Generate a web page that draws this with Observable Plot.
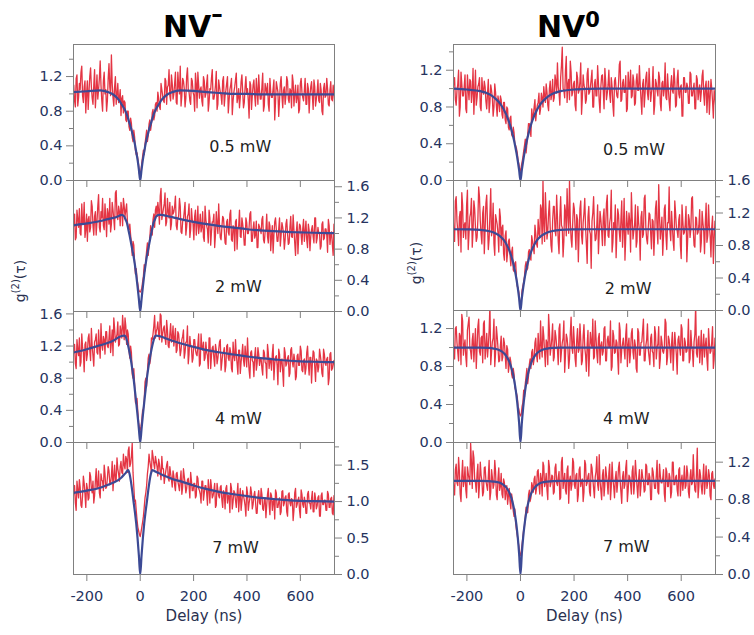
<!DOCTYPE html>
<html><head><meta charset="utf-8">
<script src="https://cdn.jsdelivr.net/npm/d3@7"></script>
<script src="https://cdn.jsdelivr.net/npm/@observablehq/plot@0.6"></script>
<style>
body{margin:0;background:#fff;}
#chart{position:relative;width:754px;height:635px;overflow:hidden;font-family:"DejaVu Sans",sans-serif;background:#fff;}
#chart svg{position:absolute;overflow:visible;}
.title{position:absolute;font-weight:bold;font-size:30px;color:#000;line-height:30px;white-space:nowrap;}
.ylab{position:absolute;font-size:14px;color:#2a3150;white-space:nowrap;transform:translate(-50%,-50%) rotate(-90deg);}
</style></head>
<body><div id="chart"></div>
<script>
// time bins of the measured histograms (ns): even bins start at -252, odd bins at -249, both every 6 ns
const delayStart = -252, delayStartOdd = -249, delayStep = 6;

// measured g2 values, NV- (left column), even bins
const nvMinus05 = [1.05,0.92,1.18,0.86,1.12,1.25,0.98,1.08,0.78,1.15,1.02,1.30,0.95,1.10,0.84,1.22,1.05,1.38,0.92,1.15,1.00,0.80,1.18,1.08,1.45,0.96,1.08,0.88,1.12,0.95,0.75,0.98,
0.92,0.70,0.80,0.62,0.72,0.50,0.58,0.35,0.32,0.18,0.05,0.20,0.35,0.42,0.58,0.52,0.70,0.65,0.82,0.75,0.90,
1.02,0.85,1.12,0.98,0.90,1.15,1.08,1.28,0.92,1.12,1.00,1.25,0.88,1.10,1.32,0.98,1.15,0.85,1.20,1.05,
0.92,1.18,1.02,0.80,1.12,1.25,0.95,1.08,0.86,1.15,1.00,1.22,0.90,1.05,1.28,0.94,1.10,0.82,1.16,1.02,
0.88,1.20,0.98,1.12,0.78,1.05,1.18,0.92,1.08,1.24,0.96,0.84,1.14,1.02,0.90,1.20,1.06,0.72,1.10,0.98,
1.16,0.86,1.04,1.22,0.94,1.08,0.80,1.12,1.00,0.88,1.18,0.96,1.06,0.70,1.14,1.02,0.92,1.20,0.84,1.08,
0.98,1.15,0.90,1.04,1.22,0.86,1.10,0.96,0.78,1.12,1.02,0.92,1.18,0.88,1.06,0.98,1.14,0.82,1.08,0.94,
1.16,0.90,1.04,0.76,1.12,0.98,1.06,0.86,1.14,0.92,1.02];
const nvMinus2 = [1.02,1.25,0.95,1.18,1.32,0.98,1.12,1.40,1.05,0.90,1.22,1.08,1.35,0.98,1.28,1.15,1.50,1.02,1.20,1.10,1.38,0.96,1.25,1.45,1.12,1.30,1.05,1.55,1.18,1.28,
1.40,1.10,1.35,1.30,1.15,1.05,0.98,0.72,0.85,0.48,0.42,0.28,0.25,
0.30,0.45,0.52,0.78,0.72,0.95,1.05,1.18,1.08,1.35,
1.40,1.12,1.58,1.25,1.38,1.10,1.45,1.20,1.05,1.35,
1.28,1.48,1.05,1.22,1.35,1.00,1.18,1.40,1.08,1.25,0.95,1.32,1.12,
1.22,0.98,1.35,1.10,1.02,1.28,0.90,1.18,1.05,1.30,0.85,1.15,1.25,0.98,1.12,1.38,0.95,
1.08,1.20,0.88,1.15,1.02,1.25,0.92,1.10,0.78,1.18,1.05,1.30,0.95,1.12,0.85,1.20,1.00,1.08,1.28,0.90,1.15,0.98,0.82,1.12,1.05,
1.18,0.92,1.02,1.25,0.88,1.10,0.96,0.75,1.15,1.05,0.90,1.20,0.98,1.08,0.80,1.12,1.00,0.88,1.22,0.95,1.05,0.72,1.15,0.98,1.10,0.86,1.18,1.02,0.92,1.12,0.78,1.05,0.96,1.20,0.88,1.08,1.00,0.84,1.15,0.94,1.06,0.76,1.10,0.98,0.86,1.12];
const nvMinus4 = [1.05,1.22,0.92,1.15,1.30,1.00,1.18,0.88,1.25,1.10,1.35,1.02,1.20,0.95,1.28,1.12,1.40,1.05,1.22,1.32,1.10,1.38,1.18,1.45,1.25,1.08,1.42,1.30,1.50,1.22,
1.38,1.58,1.28,1.45,1.40,1.15,1.20,0.85,0.92,0.50,0.55,0.25,0.15,
0.28,0.42,0.75,0.70,1.05,0.98,1.30,1.35,1.58,1.38,
1.50,1.28,1.58,1.35,1.45,1.22,1.40,1.18,1.48,1.30,
1.20,1.42,1.15,1.35,1.08,1.28,1.40,1.12,1.25,0.98,1.32,1.18,1.05,
1.28,1.10,1.22,0.95,1.35,1.15,1.02,1.25,1.08,1.30,0.92,1.18,1.05,1.22,0.98,1.15,1.28,
1.00,1.12,0.88,1.20,1.05,1.18,0.92,1.25,1.02,1.10,0.85,1.15,1.00,1.22,0.95,1.08,1.30,0.90,1.12,1.02,0.82,1.18,0.98,1.10,1.05,
0.92,1.15,1.00,0.80,1.12,1.05,0.90,1.22,0.98,1.08,0.72,1.10,1.02,0.88,1.18,0.95,1.05,0.82,1.15,1.00,1.10,0.78,1.08,0.96,1.20,0.90,1.02,0.85,1.12,0.98,1.06,0.74,1.14,0.94,1.04,0.88,1.16,1.00,0.82,1.10,0.96,1.06,0.80,1.12,0.92,1.02];
const nvMinus7 = [1.00,1.22,0.88,1.15,1.30,0.95,1.08,1.25,0.92,1.18,1.05,1.35,1.12,0.98,1.28,1.18,1.42,1.05,1.30,1.15,1.38,1.20,1.48,1.25,1.35,1.15,1.50,1.30,1.45,1.28,
1.55,1.38,1.50,1.62,1.40,1.75,1.52,1.80,1.20,1.02,0.75,0.60,0.52,
0.65,0.80,1.05,1.22,1.48,1.55,1.40,1.62,1.45,1.55,
1.35,1.52,1.30,1.45,1.25,1.42,1.55,1.28,1.38,1.20,
1.35,1.15,1.40,1.22,1.30,1.10,1.45,1.25,1.18,1.32,1.05,1.28,1.15,
1.25,1.08,1.32,1.15,0.98,1.28,1.12,1.22,0.95,1.18,1.30,1.05,1.15,0.92,1.25,1.08,1.20,
1.02,1.15,0.90,1.22,1.08,0.85,1.18,1.00,1.12,0.92,1.25,1.05,0.88,1.15,1.02,0.80,1.12,0.98,1.20,0.90,1.08,1.00,0.84,1.15,0.96,
1.10,0.88,1.05,0.95,1.18,0.82,1.08,1.00,0.76,1.12,0.92,1.05,0.86,1.15,0.98,1.08,0.80,1.12,0.94,1.02,0.88,1.18,0.96,1.06,0.78,1.10,0.92,1.00,0.84,1.14,0.98,1.04,0.86,1.12,0.90,1.06,0.80,1.08,0.96,1.02,0.88,1.14,0.92,1.04,0.84,1.08];

// measured g2 values, NV- (left column), odd bins
const nvMinus05Odd = [1.10,0.85,1.22,0.96,1.05,1.32,0.90,1.15,1.00,0.82,1.20,1.08,0.88,1.28,1.02,0.94,1.18,1.10,0.80,1.25,1.05,0.92,1.35,0.98,1.12,0.86,1.20,1.00,0.90,1.05,
0.95,0.78,0.90,0.68,0.80,0.58,0.66,0.45,0.50,0.30,0.25,0.08,
0.12,0.28,0.30,0.50,0.45,0.65,0.58,0.78,0.70,0.88,0.80,
0.95,0.82,1.05,0.92,1.18,0.88,1.10,0.98,1.22,0.94,
1.12,0.90,1.25,1.00,0.86,1.18,1.06,0.95,1.30,1.02,0.88,1.15,0.98,1.24,0.84,1.10,1.05,0.92,1.20,0.96,
1.12,0.80,1.06,1.18,0.94,1.00,1.26,0.88,1.08,0.98,1.15,0.86,1.04,1.20,0.92,1.10,0.76,1.02,1.16,0.90,
1.06,0.96,1.22,0.84,1.08,1.00,0.92,1.14,0.82,1.10,0.98,1.18,0.88,1.04,0.94,1.24,0.86,1.06,1.12,0.80,
1.02,0.96,1.16,0.90,1.08,0.74,1.12,0.98,1.04,0.88,1.20,0.94,1.06,0.84,1.14,1.00,0.90,1.10,0.82,1.18,
0.96,1.04,0.88,1.12,0.78,1.08,0.98,1.16,0.86,1.02,0.92,1.12,0.80,1.06,0.96,1.18,0.88,1.04,0.94,1.10,0.84];
const nvMinus2Odd = [1.15,0.92,1.30,1.08,1.00,1.38,1.12,0.95,1.25,1.18,1.02,1.42,1.10,1.22,0.98,1.35,1.08,1.28,1.45,1.05,1.20,1.32,1.12,1.02,1.40,1.18,1.52,1.22,1.35,1.10,
1.30,1.45,1.22,1.38,1.08,1.12,0.88,0.90,0.62,0.55,0.35,0.26,
0.27,0.38,0.60,0.65,0.88,0.85,1.10,0.98,1.25,1.30,1.22,
1.30,1.48,1.18,1.32,1.52,1.15,1.28,1.40,1.12,1.25,
1.35,1.10,1.20,1.45,1.02,1.15,1.28,0.98,1.22,1.38,1.05,1.18,0.92,1.30,1.12,1.00,1.25,1.08,0.95,1.35,
1.10,0.88,1.20,1.02,1.15,0.82,1.28,1.00,1.12,0.92,1.22,1.05,0.86,1.18,0.98,1.30,0.90,1.08,1.15,0.80,
1.10,0.96,1.20,1.02,0.85,1.14,1.00,1.25,0.90,1.06,0.94,1.16,0.82,1.08,1.00,1.22,0.88,1.04,0.96,1.15,
0.78,1.10,0.98,1.20,0.90,1.06,0.84,1.14,1.00,0.92,1.18,0.86,1.08,0.96,1.24,0.88,1.02,0.74,1.12,0.98,
1.06,0.90,1.16,0.82,1.04,0.96,1.10,0.88,1.20,0.94,1.00,0.80,1.12,0.92,1.06,0.98,1.18,0.86,1.02,0.72,1.08];
const nvMinus4Odd = [1.18,0.98,1.28,1.08,0.95,1.35,1.12,1.22,1.02,1.30,1.15,1.42,1.08,1.25,1.35,1.10,1.20,1.48,1.15,1.28,1.38,1.20,1.30,1.12,1.40,1.55,1.25,1.35,1.20,1.45,
1.30,1.42,1.55,1.22,1.35,1.05,1.12,0.80,0.72,0.48,0.38,0.18,
0.20,0.40,0.52,0.80,0.88,1.10,1.05,1.28,1.45,1.30,1.42,
1.35,1.60,1.25,1.42,1.30,1.52,1.20,1.35,1.25,1.45,
1.30,1.12,1.38,1.22,1.15,1.32,1.05,1.25,1.45,1.10,1.20,1.00,1.28,1.15,1.08,1.35,0.98,1.18,1.25,1.05,
1.12,0.92,1.30,1.08,1.20,0.95,1.15,1.05,1.25,0.90,1.10,1.18,0.96,1.22,1.02,1.12,0.88,1.08,1.28,0.98,
1.15,0.86,1.10,1.02,1.20,0.94,1.06,0.80,1.14,1.00,1.08,0.90,1.18,0.96,1.04,0.84,1.12,0.98,1.22,0.92,
1.02,1.10,0.78,1.06,0.96,1.16,0.88,1.04,0.70,1.12,0.98,1.08,0.86,1.18,0.94,1.02,0.82,1.10,0.96,1.14,
0.88,1.04,0.92,1.20,0.84,1.06,0.98,1.12,0.76,1.02,0.94,1.08,0.86,1.16,0.98,1.04,0.72,1.10,0.90,1.00,0.88];
const nvMinus7Odd = [1.15,0.98,1.28,1.05,1.20,0.92,1.35,1.10,1.25,1.02,1.40,1.18,1.28,1.08,1.45,1.22,1.12,1.38,1.28,1.50,1.18,1.32,1.42,1.25,1.55,1.35,1.28,1.60,1.38,1.48,
1.40,1.65,1.45,1.58,1.70,1.48,1.62,1.40,1.00,0.88,0.65,0.55,
0.58,0.72,0.92,1.12,1.38,1.65,1.48,1.70,1.52,1.62,1.48,
1.58,1.40,1.62,1.45,1.35,1.50,1.32,1.48,1.30,1.42,
1.22,1.38,1.28,1.15,1.42,1.20,1.35,1.12,1.30,1.22,1.40,1.15,1.25,1.05,1.35,1.18,1.10,1.28,1.02,1.22,
1.12,1.30,0.98,1.20,1.08,1.25,0.95,1.15,1.05,1.22,0.92,1.12,1.18,0.98,1.08,1.25,0.90,1.15,1.02,1.10,
0.86,1.18,1.00,1.08,0.94,1.20,0.88,1.05,1.12,0.96,1.14,0.84,1.06,0.98,1.18,0.90,1.02,0.78,1.10,0.96,
1.12,0.88,1.04,1.16,0.92,1.00,0.82,1.14,0.94,1.06,0.86,1.10,0.98,1.04,0.74,1.12,0.92,1.02,0.88,1.16,
0.96,1.06,0.84,1.10,0.98,0.90,1.14,0.86,1.04,0.94,1.08,0.80,1.12,0.96,1.02,0.88,1.10,0.92,1.06,0.82,1.00];

// measured g2 values, NV0 (right column), even bins
const nvZero05 = [0.95,1.12,0.82,1.05,0.70,1.18,0.92,1.02,0.78,1.15,0.88,1.08,0.96,0.72,1.20,0.90,1.05,0.80,1.12,0.94,1.02,0.78,1.10,0.85,0.98,0.70,1.05,0.82,0.92,0.75,
0.88,0.68,0.85,0.62,0.78,0.55,0.70,0.48,0.52,0.38,0.30,0.18,0.10,
0.20,0.32,0.45,0.40,0.62,0.55,0.78,0.70,0.88,0.75,
0.85,0.72,0.95,0.80,0.92,1.05,0.82,1.00,0.88,1.10,
0.90,1.08,1.28,0.95,1.12,1.45,0.98,1.20,0.85,1.10,1.30,0.92,1.05,
0.82,1.18,0.95,1.08,0.72,1.15,1.00,0.88,1.22,0.96,1.10,0.80,1.05,0.92,1.25,0.86,1.02,
1.15,0.78,1.08,0.95,1.20,0.85,1.02,0.70,1.12,0.92,1.05,1.30,0.88,1.10,0.96,0.75,1.18,1.00,0.90,1.15,0.82,1.08,0.98,1.25,0.88,
1.05,0.80,1.12,0.95,1.22,0.86,1.02,0.72,1.10,0.98,1.18,0.84,1.06,0.92,1.28,0.88,1.00,0.76,1.14,0.95,1.08,0.82,1.20,0.90,1.04,0.70,1.12,0.96,1.02,0.84,1.16,0.92,1.06,0.78,1.10,0.98,0.86,1.14,0.94,1.02,0.74,1.08,0.90,1.00,0.68,0.92];
const nvZero2 = [1.25,0.85,1.40,0.98,1.15,0.72,1.30,1.05,0.88,1.48,0.95,1.20,0.78,1.35,1.02,0.90,1.52,1.10,0.82,1.28,1.00,1.42,0.75,1.18,0.92,1.32,0.68,1.12,0.95,1.25,
0.80,1.05,0.62,0.98,0.72,0.88,0.55,0.78,0.48,0.60,0.30,0.22,0.05,
0.25,0.35,0.55,0.50,0.72,0.65,0.92,0.78,1.05,0.82,
1.12,0.90,1.25,1.60,0.85,1.18,0.98,1.35,0.80,1.10,
1.28,0.92,1.15,0.70,1.40,1.02,0.86,1.22,1.50,0.95,1.10,0.78,1.32,
1.00,1.18,0.60,1.25,0.92,1.08,1.38,0.82,1.15,0.98,0.52,1.20,1.05,0.88,1.30,0.95,1.12,
0.80,1.25,1.02,1.42,0.90,1.15,0.72,1.08,1.30,0.96,1.18,0.85,1.35,1.00,0.62,1.22,0.94,1.10,1.45,0.88,1.05,0.78,1.28,0.98,1.15,
0.90,1.38,1.02,0.82,1.20,0.95,1.12,0.68,1.25,1.00,1.55,0.88,1.15,0.92,1.30,0.75,1.08,0.98,1.22,0.85,1.35,1.02,0.90,1.18,0.64,1.10,0.96,1.28,0.86,1.12,1.00,1.40,0.80,1.15,0.94,1.05,0.72,1.22,0.98,1.08,0.84,1.30,0.92,1.02,0.58,1.10];
const nvZero4 = [1.10,0.88,1.22,0.95,1.15,0.82,1.28,1.02,0.90,1.18,1.32,0.96,1.08,0.85,1.20,1.00,1.30,0.92,1.12,1.25,0.88,1.15,1.02,1.45,0.95,1.10,0.80,1.22,1.00,0.86,
1.12,0.90,1.05,0.78,0.98,0.82,0.85,0.68,0.72,0.55,0.48,0.35,0.28,
0.38,0.55,0.62,0.78,0.70,0.88,0.95,0.82,1.05,0.92,
1.15,0.88,1.02,1.22,0.95,1.08,0.82,1.18,1.00,1.25,
0.90,1.12,0.98,1.20,0.85,1.05,1.28,0.92,1.10,0.78,1.15,1.00,1.22,
0.88,1.08,0.95,1.25,0.82,1.12,1.00,0.75,1.18,0.96,1.05,1.30,0.90,1.10,0.84,1.15,1.02,
0.92,1.20,0.86,1.08,1.00,1.28,0.80,1.12,0.95,1.05,0.72,1.18,0.98,1.10,0.88,1.25,1.02,0.84,1.15,0.95,1.08,0.78,1.20,0.92,1.05,
1.18,0.86,1.02,1.25,0.90,1.10,0.96,0.80,1.15,1.00,1.22,0.88,1.06,0.94,1.30,0.82,1.12,0.98,1.04,0.76,1.16,0.92,1.08,1.00,1.24,0.86,1.10,0.95,1.02,0.84,1.18,0.96,1.06,1.45,0.90,1.12,0.98,0.82,1.14,1.02,0.88,1.20,0.94,1.06,0.78,1.10];
const nvZero7 = [1.05,0.85,1.18,0.95,1.10,0.78,1.22,1.00,0.90,1.15,1.02,1.40,0.92,1.25,0.98,1.08,0.82,1.20,1.00,0.88,1.15,0.95,1.05,0.80,1.12,0.92,1.22,0.85,1.02,0.90,
1.08,0.82,0.98,0.88,0.75,0.92,0.70,0.80,0.62,0.55,0.42,0.30,0.20,
0.32,0.48,0.62,0.68,0.85,0.78,0.98,0.88,1.05,0.92,
1.12,0.86,1.02,1.20,0.94,1.08,0.80,1.15,0.98,1.05,
0.88,1.18,0.95,1.10,0.82,1.25,1.00,0.90,1.12,0.76,1.05,0.96,1.20,
0.92,1.08,0.85,1.15,1.00,0.78,1.22,0.95,1.05,0.88,1.18,1.02,0.82,1.10,0.96,1.28,0.90,
1.06,0.84,1.15,0.98,1.08,0.80,1.20,0.94,1.02,0.88,1.14,1.00,0.76,1.10,0.96,1.22,0.90,1.04,0.86,1.16,0.98,1.08,0.82,1.12,0.95,
1.04,0.88,1.18,0.96,1.08,0.80,1.14,1.00,0.92,1.22,0.86,1.06,0.98,1.12,0.78,1.10,0.94,1.04,0.88,1.20,0.96,1.06,0.84,1.14,1.00,0.90,1.16,0.95,1.08,0.82,1.12,0.98,1.04,0.88,1.35,0.94,1.06,0.86,1.18,1.00,0.92,1.12,0.84,1.08,0.96,1.02];

// measured g2 values, NV0 (right column), odd bins
const nvZero05Odd = [1.08,0.88,0.98,1.20,0.80,1.05,0.92,1.15,0.74,1.00,1.10,0.85,1.22,0.95,0.82,1.02,1.12,0.76,0.98,1.08,0.86,0.95,0.74,1.04,0.90,0.80,0.96,0.70,0.86,0.92,
0.72,0.85,0.66,0.80,0.58,0.68,0.50,0.58,0.40,0.35,0.22,0.12,
0.15,0.25,0.38,0.30,0.50,0.62,0.48,0.68,0.80,0.65,0.82,
0.95,0.78,0.90,1.02,0.85,0.96,0.76,1.08,0.94,0.86,
1.15,0.95,1.02,0.82,1.25,1.00,0.90,1.35,1.05,0.88,1.18,0.96,1.08,0.76,1.12,0.98,1.28,0.90,1.04,0.84,
1.16,0.94,1.02,1.20,0.80,1.10,0.92,1.06,0.74,1.14,0.98,1.22,0.88,1.04,0.94,1.12,0.82,1.08,1.00,0.90,
1.26,0.86,1.06,0.96,1.14,0.78,1.02,1.20,0.92,1.08,0.84,1.16,0.98,1.04,0.72,1.10,0.94,1.18,0.88,1.02,
0.96,1.24,0.82,1.06,0.92,1.12,0.76,1.08,1.00,0.90,1.16,0.86,1.04,0.98,1.22,0.80,1.10,0.94,1.02,0.70,
1.12,0.96,1.06,0.84,1.18,0.92,1.00,0.78,1.14,0.88,1.04,0.96,1.20,0.82,1.08,0.94,0.72,1.10,0.86,0.98,0.80];
const nvZero2Odd = [0.92,1.35,1.10,0.80,1.22,1.45,0.90,1.08,1.30,0.75,1.15,1.38,0.98,1.25,0.85,1.12,1.40,0.94,1.20,0.70,1.32,1.05,0.88,1.50,1.00,0.82,1.18,1.06,0.72,1.15,
1.02,0.70,0.92,0.60,0.85,0.68,0.72,0.50,0.58,0.40,0.28,0.10,
0.12,0.30,0.42,0.60,0.52,0.75,0.62,0.85,0.70,0.95,0.78,
0.95,1.30,0.82,1.05,1.45,0.88,1.20,1.02,0.72,1.28,
0.98,1.42,0.85,1.15,1.05,0.66,1.30,0.92,1.18,1.60,0.88,1.08,1.25,0.75,1.12,0.96,1.35,0.82,1.20,1.02,
0.58,1.28,0.94,1.10,1.40,0.86,1.05,0.70,1.22,0.98,1.15,0.80,1.32,0.92,1.08,1.48,0.84,1.00,0.65,1.25,
0.96,1.12,0.78,1.38,0.90,1.05,1.20,0.72,1.15,0.98,1.30,0.85,1.08,0.62,1.22,0.94,1.42,0.88,1.02,1.18,
0.76,1.10,0.96,1.35,0.82,1.16,1.00,0.68,1.25,0.92,1.08,1.52,0.86,1.04,0.74,1.20,0.98,1.12,0.80,1.30,
0.94,1.06,0.60,1.18,0.90,1.38,1.00,0.78,1.14,0.96,1.24,0.84,1.08,0.70,1.32,0.92,1.04,0.66,1.16,0.88,1.02];
const nvZero4Odd = [0.95,1.20,1.05,0.86,1.12,1.35,0.92,1.08,0.80,1.25,1.00,0.88,1.15,1.02,0.78,1.22,0.96,1.10,0.84,1.28,1.00,0.90,1.18,0.82,1.06,1.30,0.94,1.12,0.85,1.02,
0.86,1.10,0.92,1.02,0.74,0.90,0.72,0.78,0.58,0.52,0.38,0.30,
0.30,0.42,0.48,0.70,0.62,0.82,0.78,0.98,0.88,1.10,0.85,
0.98,1.28,0.90,1.12,0.80,1.05,1.35,0.92,1.10,0.86,
1.18,1.02,0.82,1.25,0.96,1.10,0.74,1.14,1.00,0.88,1.32,0.94,1.06,0.80,1.20,0.98,1.08,0.86,1.24,0.92,
1.04,0.70,1.16,1.00,0.88,1.28,0.94,1.10,0.82,1.06,0.96,1.22,0.86,1.12,1.02,0.76,1.18,0.94,1.08,0.90,
1.26,0.84,1.04,0.98,1.14,0.80,1.10,0.96,1.20,0.88,1.02,0.74,1.16,0.92,1.06,1.30,0.86,1.08,0.98,0.82,
1.14,0.94,1.22,0.88,1.04,0.78,1.12,0.96,1.00,1.26,0.90,1.08,0.84,1.16,0.98,1.04,0.72,1.12,0.92,1.20,
0.86,1.06,0.96,1.30,0.88,1.02,0.80,1.14,0.94,1.08,0.84,1.18,1.00,0.90,1.10,0.76,1.04,0.96,1.22,0.88,1.02];
const nvZero7Odd = [0.92,1.12,0.98,1.25,0.86,1.05,0.94,1.15,0.82,1.08,0.96,1.20,1.32,1.02,0.88,1.18,0.96,1.06,0.84,1.14,1.00,0.90,1.22,0.88,1.04,0.96,1.10,0.80,1.14,0.94,
0.86,1.02,0.80,0.95,0.84,0.78,0.86,0.68,0.70,0.48,0.36,0.22,
0.25,0.40,0.52,0.72,0.66,0.90,0.82,0.94,1.02,0.86,1.10,
0.96,1.08,0.84,1.16,0.98,0.90,1.22,0.94,1.06,0.86,
1.14,0.98,1.04,0.80,1.20,0.92,1.08,0.86,1.16,1.00,0.90,1.24,0.96,1.06,0.78,1.12,0.94,1.02,0.88,1.18,
0.98,1.08,0.84,1.14,0.92,1.04,1.26,0.90,1.00,0.80,1.12,0.96,1.06,0.86,1.18,0.94,1.02,0.82,1.10,0.98,
1.20,0.88,1.04,0.92,1.14,0.78,1.06,0.96,1.10,0.86,1.22,0.94,1.02,0.84,1.12,1.00,0.90,1.16,0.96,1.04,
0.80,1.10,0.92,1.06,0.88,1.18,0.98,1.02,0.86,1.14,0.94,1.08,0.82,1.20,0.96,1.04,0.90,1.12,0.84,1.06,
1.00,0.92,1.16,0.88,1.04,0.96,1.28,0.90,1.08,0.82,1.12,0.94,1.02,0.86,1.16,0.98,1.06,0.80,1.10,0.92,1.00];

// fitted curves (delay grid and values)
const fitDelay = [-250,-200,-150,-120,-100,-80,-70,-60,-55,-50,-45,-40,-35,-30,-25,-20,-15,-10,-5,0,5,10,15,20,25,30,35,40,45,50,55,60,70,80,100,120,150,200,250,300,350,400,450,500,550,600,650,728];
const fitNvMinus05 = [1.02,1.03,1.04,1.02,0.99,0.93,0.88,0.83,0.80,0.76,0.71,0.66,0.61,0.55,0.49,0.42,0.33,0.24,0.125,0,0.125,0.24,0.33,0.42,0.49,0.55,0.61,0.66,0.71,0.76,0.80,0.83,0.88,0.93,0.99,1.02,1.04,1.035,1.02,1.01,1.0,1.0,0.995,0.995,0.995,0.995,0.995,0.995];
const fitNvMinus2 = [1.105,1.13,1.16,1.185,1.20,1.225,1.24,1.22,1.18,1.14,1.06,0.98,0.89,0.80,0.71,0.60,0.47,0.32,0.16,0,0.16,0.32,0.47,0.60,0.71,0.80,0.89,0.98,1.06,1.14,1.18,1.22,1.24,1.238,1.225,1.21,1.185,1.15,1.12,1.095,1.075,1.055,1.04,1.03,1.02,1.015,1.01,1.005];
const fitNvMinus4 = [1.12,1.16,1.21,1.24,1.27,1.31,1.325,1.33,1.32,1.27,1.20,1.12,1.03,0.92,0.80,0.65,0.50,0.34,0.17,0,0.17,0.34,0.50,0.65,0.80,0.92,1.03,1.12,1.20,1.27,1.32,1.33,1.325,1.315,1.29,1.265,1.235,1.19,1.15,1.12,1.095,1.07,1.05,1.035,1.02,1.01,1.005,1.0];
const fitNvMinus7 = [1.12,1.15,1.19,1.23,1.26,1.30,1.33,1.37,1.39,1.415,1.43,1.38,1.28,1.15,1.00,0.86,0.70,0.50,0.26,0,0.26,0.50,0.70,0.86,1.00,1.15,1.28,1.38,1.43,1.425,1.415,1.405,1.39,1.37,1.34,1.31,1.28,1.22,1.17,1.13,1.10,1.075,1.05,1.035,1.02,1.01,1.005,1.0];
const fitNvZero05 = [1.0,0.99,0.972,0.943,0.908,0.851,0.811,0.76,0.73,0.696,0.657,0.614,0.565,0.51,0.449,0.379,0.30,0.212,0.112,0,0.112,0.212,0.30,0.379,0.449,0.51,0.565,0.614,0.657,0.696,0.73,0.76,0.811,0.851,0.908,0.943,0.972,0.99,0.997,1.0,1.0,1.0,1.0,1.0,1.0,1.0,1.0,1.0];
const fitNvZero2 = [1.0,0.998,0.992,0.979,0.96,0.924,0.895,0.856,0.83,0.80,0.766,0.725,0.677,0.62,0.554,0.476,0.384,0.276,0.149,0,0.149,0.276,0.384,0.476,0.554,0.62,0.677,0.725,0.766,0.80,0.83,0.856,0.895,0.924,0.96,0.979,0.992,0.998,1.0,1.0,1.0,1.0,1.0,1.0,1.0,1.0,1.0,1.0];
const fitNvZero4 = [1.0,1.0,1.0,0.996,0.989,0.974,0.959,0.935,0.918,0.897,0.871,0.838,0.796,0.744,0.679,0.597,0.494,0.365,0.203,0,0.203,0.365,0.494,0.597,0.679,0.744,0.796,0.838,0.871,0.897,0.918,0.935,0.959,0.974,0.989,0.996,1.0,1.0,1.0,1.0,1.0,1.0,1.0,1.0,1.0,1.0,1.0,1.0];
const fitNvZero7 = [1.0,1.0,1.0,0.998,0.993,0.982,0.97,0.95,0.936,0.918,0.895,0.865,0.826,0.777,0.713,0.632,0.528,0.393,0.221,0,0.221,0.393,0.528,0.632,0.713,0.777,0.826,0.865,0.895,0.918,0.936,0.95,0.97,0.982,0.993,0.998,1.0,1.0,1.0,1.0,1.0,1.0,1.0,1.0,1.0,1.0,1.0,1.0];

// text
const powerLabels = ["0.5 mW", "2 mW", "4 mW", "7 mW"];
const xTicks = [-200, 0, 200, 400, 600];

const panels = [
  {col:0,row:0,data:nvMinus05,odd:nvMinus05Odd,fit:fitNvMinus05,yMax:1.57,side:"left", ticks:[0,0.4,0.8,1.2],minor:[0.2,0.6,1.0,1.4],lab:[375,0.39]},
  {col:0,row:1,data:nvMinus2, odd:nvMinus2Odd, fit:fitNvMinus2, yMax:1.68,side:"right",ticks:[0,0.4,0.8,1.2,1.6],minor:[0.2,0.6,1.0,1.4],lab:[368,0.31]},
  {col:0,row:2,data:nvMinus4, odd:nvMinus4Odd, fit:fitNvMinus4, yMax:1.63,side:"left", ticks:[0,0.4,0.8,1.2,1.6],minor:[0.2,0.6,1.0,1.4],lab:[368,0.29]},
  {col:0,row:3,data:nvMinus7, odd:nvMinus7Odd, fit:fitNvMinus7, yMax:1.81,side:"right",ticks:[0,0.5,1.0,1.5],minor:[0.25,0.75,1.25,1.75],lab:[357,0.37]},
  {col:1,row:0,data:nvZero05,odd:nvZero05Odd,fit:fitNvZero05,yMax:1.48,side:"left", ticks:[0,0.4,0.8,1.2],minor:[0.2,0.6,1.0,1.4],lab:[424,0.33]},
  {col:1,row:1,data:nvZero2, odd:nvZero2Odd, fit:fitNvZero2, yMax:1.60,side:"right",ticks:[0,0.4,0.8,1.2,1.6],minor:[0.2,0.6,1.0,1.4],lab:[402,0.27]},
  {col:1,row:2,data:nvZero4, odd:nvZero4Odd, fit:fitNvZero4, yMax:1.39,side:"left", ticks:[0,0.4,0.8,1.2],minor:[0.2,0.6,1.0],lab:[395,0.25]},
  {col:1,row:3,data:nvZero7, odd:nvZero7Odd, fit:fitNvZero7, yMax:1.41,side:"right",ticks:[0,0.4,0.8,1.2],minor:[0.2,0.6,1.0],lab:[395,0.29]}
];

// layout (pixels)
const colLeft = [73, 453], colWidth = [261, 262];
const rowTop = [[44,180,311,442],[44,180,310,442]];
const rowHeight = [[136,131,131,132],[136,130,132,132]];

const chart = document.getElementById("chart");
const frameColor = "#808080", labelColor = "#26335e";
const ML = 55, MR = 55, MT = 10;

panels.forEach(p => {
  if (p.data.length !== 164) throw new Error("length " + p.data.length + " at col " + p.col + " row " + p.row);
  if (p.odd.length !== 164) throw new Error("odd length " + p.odd.length + " at col " + p.col + " row " + p.row);
  if (p.fit.length !== fitDelay.length) throw new Error("fit length " + p.fit.length);
  const last = p.row === 3;
  const MB = last ? 75 : 12;
  const w = colWidth[p.col], h = rowHeight[p.col][p.row];
  const rows = p.data.map((g, i) => ({delay: delayStart + i * delayStep, g}))
    .concat(p.odd.map((g, i) => ({delay: delayStartOdd + i * delayStep, g})))
    .sort((a, b) => a.delay - b.delay);
  const fitRows = p.fit.map((g, i) => ({delay: fitDelay[i], g}));
  const svg = Plot.plot({
    width: ML + w + MR, height: MT + h + MB,
    marginLeft: ML, marginRight: MR, marginTop: MT, marginBottom: MB,
    style: {background: "transparent", overflow: "visible", fontFamily: "DejaVu Sans, sans-serif"},
    x: {domain: [-250, 728], label: null},
    y: {domain: [0, p.yMax], label: null},
    marks: [
      Plot.line(rows, {x: "delay", y: "g", stroke: "#e0192a", strokeWidth: 1.3, strokeOpacity: 0.88, clip: true}),
      Plot.line(fitRows, {x: "delay", y: "g", stroke: "#3c4a95", strokeWidth: 2.2, curve: "monotone-x", clip: true}),
      Plot.frame({stroke: frameColor, strokeWidth: 1}),
      Plot.axisY(p.ticks, {anchor: p.side, tickSize: 7, tickPadding: p.side === "left" ? 4 : 5, tickFormat: d3.format(".1f"), label: null, stroke: frameColor, fill: labelColor, fontSize: 14.5}),
      Plot.axisY(p.minor, {anchor: p.side, tickSize: 4, tickFormat: () => "", label: null, stroke: frameColor}),
      Plot.axisX(xTicks, {anchor: "bottom", tickSize: 7, tickPadding: 9, tickFormat: last ? d => String(d) : () => "", label: null, stroke: frameColor, fill: labelColor, fontSize: 14.5}),
      Plot.text([powerLabels[p.row]], {x: p.lab[0], y: p.lab[1], text: d => d, fontSize: 16, fill: "#1e1e1e"}),
      last ? Plot.text(["Delay (ns)"], {frameAnchor: "bottom", dy: 46, text: d => d, fontSize: 15, fill: "#2a3150"}) : null
    ]
  });
  svg.style.left = (colLeft[p.col] - ML) + "px";
  svg.style.top = (rowTop[p.col][p.row] - MT) + "px";
  chart.appendChild(svg);
});

// titles and axis labels
function addDiv(cls, html, left, top) {
  const d = document.createElement("div");
  d.className = cls; d.innerHTML = html;
  d.style.left = left + "px"; d.style.top = top + "px";
  chart.appendChild(d);
}
addDiv("title", 'NV<span style="position:relative;top:-15px;font-size:23px">–</span>', 163, 12);
addDiv("title", 'NV<span style="position:relative;top:-10px;font-size:21px">0</span>', 537, 12);
addDiv("ylab", 'g<sup style="font-size:10px">(2)</sup>(τ)', 19, 281);
addDiv("ylab", 'g<sup style="font-size:10px">(2)</sup>(τ)', 415, 263);
</script>
</body></html>
